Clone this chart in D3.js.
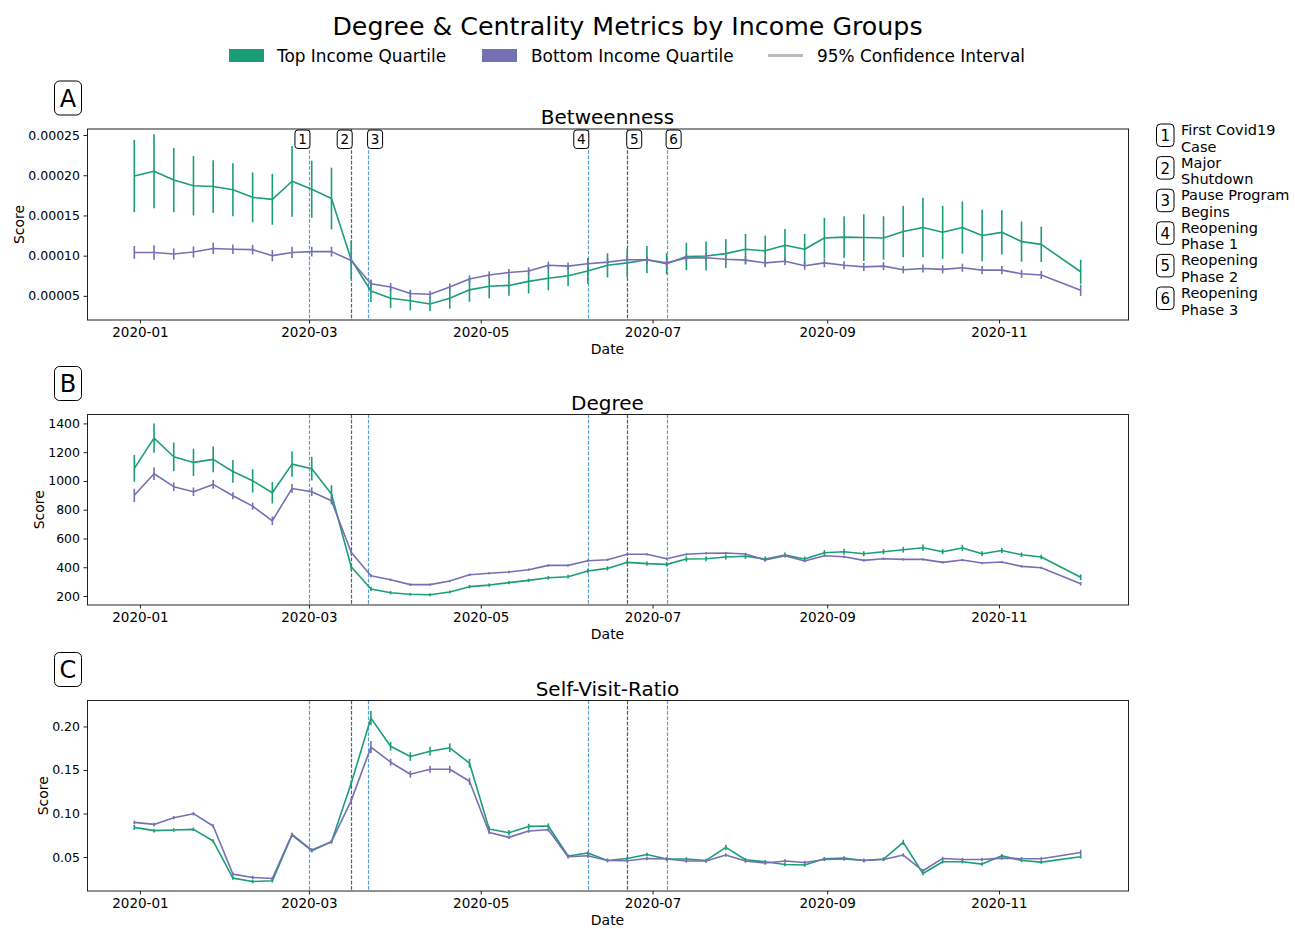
<!DOCTYPE html>
<html><head><meta charset="utf-8">
<script src="https://cdn.jsdelivr.net/npm/d3@7"></script>
<style>body{margin:0;background:#fff}svg{font-family:"DejaVu Sans",sans-serif}</style>
</head><body><svg id="c" width="1295" height="929"></svg>
<script>
// ---------- DATA ----------
const dates = ["2019-12-30","2020-01-06","2020-01-13","2020-01-20","2020-01-27","2020-02-03","2020-02-10","2020-02-17","2020-02-24","2020-03-02","2020-03-09","2020-03-16","2020-03-23","2020-03-30","2020-04-06","2020-04-13","2020-04-20","2020-04-27","2020-05-04","2020-05-11","2020-05-18","2020-05-25","2020-06-01","2020-06-08","2020-06-15","2020-06-22","2020-06-29","2020-07-06","2020-07-13","2020-07-20","2020-07-27","2020-08-03","2020-08-10","2020-08-17","2020-08-24","2020-08-31","2020-09-07","2020-09-14","2020-09-21","2020-09-28","2020-10-05","2020-10-12","2020-10-19","2020-10-26","2020-11-02","2020-11-09","2020-11-16","2020-11-30"];

// Betweenness (units of 1e-5)
const betTop = [19.9,20.5,19.4,18.7,18.6,18.2,17.25,17.0,19.25,18.25,17.1,9.5,5.6,4.7,4.4,4.0,4.7,5.75,6.2,6.3,6.8,7.2,7.5,8.1,8.8,9.1,9.5,9.0,9.9,9.95,10.25,10.8,10.6,11.3,10.8,12.2,12.3,12.25,12.2,13.0,13.5,12.9,13.5,12.5,12.9,11.75,11.4,8.0];
const betTopErr = [4.5,4.6,4.0,3.7,3.25,3.3,3.1,3.15,4.4,3.55,3.85,2.4,1.4,1.2,1.2,0.9,1.3,1.5,1.5,1.3,1.5,1.5,1.3,1.6,1.5,1.8,1.7,1.3,1.7,1.8,1.8,1.9,1.9,2.0,1.9,2.5,2.6,2.9,2.7,3.2,3.7,3.3,3.25,3.2,2.75,2.5,2.2,1.5];
const betBot = [10.4,10.4,10.2,10.45,10.9,10.8,10.75,10.0,10.4,10.5,10.5,9.4,6.5,6.1,5.3,5.2,6.1,7.1,7.6,7.9,8.1,8.8,8.7,9.0,9.2,9.5,9.5,9.1,9.7,9.75,9.55,9.45,9.1,9.3,8.75,9.1,8.8,8.6,8.7,8.25,8.4,8.3,8.5,8.2,8.2,7.75,7.6,5.7];
const betBotErr = [0.8,0.9,0.7,0.7,0.7,0.6,0.6,0.7,0.7,0.6,0.6,0.7,0.5,0.5,0.45,0.45,0.45,0.45,0.45,0.45,0.45,0.45,0.45,0.45,0.45,0.5,0.5,0.5,0.5,0.5,0.5,0.5,0.55,0.5,0.5,0.55,0.5,0.5,0.5,0.45,0.5,0.5,0.5,0.5,0.5,0.5,0.5,0.7];

// Degree
const degTop = [1087,1298,1168,1129,1150,1066,1001,918,1117,1085,909,404,249,223,212,209,228,265,276,293,309,327,334,374,392,434,425,420,457,459,471,476,457,485,457,501,508,494,508,522,536,508,534,494,517,487,471,330];
const degTopErr = [93,102,100,95,90,79,81,75,87,81,61,25,15,12,10,10,10,12,12,12,12,13,13,15,15,15,15,15,18,18,18,18,18,18,18,18,20,18,18,20,22,18,22,18,18,16,16,20];
const degBot = [900,1050,960,925,976,897,825,723,948,925,862,504,341,313,279,279,304,348,358,367,383,413,413,445,452,490,490,459,490,497,499,492,450,480,443,480,473,448,459,455,455,434,450,429,436,406,397,285];
const degBotErr = [46,44,30,30,30,25,25,30,30,30,25,15,10,8,8,8,8,8,8,8,8,8,8,8,8,8,8,8,8,8,8,8,8,8,8,8,8,8,8,8,8,8,8,8,8,8,8,12];

// Self-Visit-Ratio
const svrTop = [0.0841,0.0803,0.0811,0.0818,0.0684,0.0258,0.0219,0.0227,0.0753,0.0573,0.0676,0.1347,0.2096,0.1773,0.1655,0.1716,0.1755,0.1578,0.0822,0.0780,0.0852,0.0857,0.0512,0.0546,0.0461,0.0484,0.0530,0.0477,0.0477,0.0461,0.0611,0.0469,0.0446,0.0415,0.0408,0.0480,0.0488,0.0461,0.0477,0.0668,0.0311,0.0446,0.0446,0.0419,0.0515,0.0461,0.0442,0.0503];
const svrTopErr = [0.003,0.002,0.002,0.002,0.002,0.002,0.002,0.002,0.002,0.002,0.002,0.003,0.008,0.005,0.005,0.005,0.005,0.005,0.003,0.003,0.003,0.003,0.002,0.002,0.002,0.002,0.002,0.002,0.002,0.002,0.003,0.002,0.002,0.002,0.002,0.002,0.002,0.002,0.002,0.003,0.002,0.002,0.002,0.002,0.002,0.002,0.002,0.002];
const svrBot = [0.0898,0.0875,0.0952,0.0998,0.0857,0.0304,0.0265,0.0254,0.0760,0.0580,0.0676,0.1148,0.1762,0.1589,0.1451,0.1508,0.1508,0.1370,0.0783,0.0726,0.0799,0.0814,0.0503,0.0515,0.0461,0.0457,0.0484,0.0477,0.0454,0.0454,0.0523,0.0454,0.0431,0.0454,0.0438,0.0472,0.0477,0.0461,0.0472,0.0523,0.0342,0.0484,0.0472,0.0472,0.0488,0.0480,0.0480,0.0553];
const svrBotErr = [0.002,0.002,0.002,0.002,0.002,0.002,0.002,0.002,0.002,0.002,0.002,0.003,0.007,0.004,0.004,0.004,0.004,0.004,0.002,0.002,0.002,0.002,0.002,0.002,0.002,0.002,0.002,0.002,0.002,0.002,0.002,0.002,0.002,0.002,0.002,0.002,0.002,0.002,0.002,0.002,0.002,0.002,0.002,0.002,0.002,0.002,0.002,0.003];

const eventDates = ["2020-03-01","2020-03-16","2020-03-22","2020-06-08","2020-06-22","2020-07-06"];
const eventLabels = [["First Covid19","Case"],["Major","Shutdown"],["Pause Program","Begins"],["Reopening","Phase 1"],["Reopening","Phase 2"],["Reopening","Phase 3"]];
const xTicks = ["2020-01-01","2020-03-01","2020-05-01","2020-07-01","2020-09-01","2020-11-01"];
const seriesNames = ["Top Income Quartile","Bottom Income Quartile","95% Confidence Interval"];

// ---------- STYLE / LAYOUT ----------
const GREEN = "#1b9e77", PURPLE = "#7570b3";
const L = 87, R = 1128;
const annotSide = [-1,-1,1,-1,1,1]; // which side of the line each number box sits
const evColors = ["#5a9fd6","#2f6aa8","#5a9fd6","#5a9fd6","#3d5f86","#5a9fd6"];
const panels = [
  {letter:"A", title:"Betweenness", top:129, bottom:320, domain:[2.0e-5, 25.75e-5], ticks:[5e-5,10e-5,15e-5,20e-5,25e-5], fmt:d3.format(".5f"),
   top_:betTop.map(v=>v*1e-5), topErr:betTopErr.map(v=>v*1e-5), bot:betBot.map(v=>v*1e-5), botErr:betBotErr.map(v=>v*1e-5), annotate:true},
  {letter:"B", title:"Degree", top:414.5, bottom:605, domain:[137.5, 1462], ticks:[200,400,600,800,1000,1200,1400], fmt:d3.format("d"),
   top_:degTop, topErr:degTopErr, bot:degBot, botErr:degBotErr},
  {letter:"C", title:"Self-Visit-Ratio", top:700.5, bottom:891, domain:[0.011, 0.2298], ticks:[0.05,0.10,0.15,0.20], fmt:d3.format(".2f"),
   top_:svrTop, topErr:svrTopErr, bot:svrBot, botErr:svrBotErr}
];

const parse = d3.utcParse("%Y-%m-%d");
const xd = dates.map(parse);
const ext = d3.extent(xd);
const span = ext[1]-ext[0];
const x = d3.scaleUtc().domain([new Date(+ext[0]-0.05*span), new Date(+ext[1]+0.05*span)]).range([L, R]);

const svg = d3.select("#c");

// title
svg.append("text").attr("x",627.5).attr("y",35).attr("text-anchor","middle").attr("font-size",25.3).attr("fill","#000")
  .text("Degree & Centrality Metrics by Income Groups");

// legend
const lg = svg.append("g");
lg.append("rect").attr("x",229).attr("y",49).attr("width",35).attr("height",13).attr("fill",GREEN);
lg.append("text").attr("x",277).attr("y",61.5).attr("font-size",16.9).text(seriesNames[0]);
lg.append("rect").attr("x",482).attr("y",49).attr("width",35).attr("height",13).attr("fill",PURPLE);
lg.append("text").attr("x",531).attr("y",61.5).attr("font-size",16.9).text(seriesNames[1]);
lg.append("line").attr("x1",768).attr("x2",803).attr("y1",55.5).attr("y2",55.5).attr("stroke","#bbb").attr("stroke-width",3);
lg.append("text").attr("x",817).attr("y",61.5).attr("font-size",16.9).text(seriesNames[2]);

panels.forEach(p => {
  const y = d3.scaleLinear().domain(p.domain).range([p.bottom, p.top]);
  const g = svg.append("g");

  // event lines
  eventDates.forEach((d,i) => {
    const ex = Math.round(x(parse(d)))+0.5;
    g.append("line").attr("x1",ex).attr("x2",ex).attr("y1",p.top).attr("y2",p.bottom)
      .attr("stroke",evColors[i]).attr("stroke-width",1.2).attr("stroke-dasharray","3.7,1.6");
  });

  // series
  const drawSeries = (vals, errs, color) => {
    const sg = g.append("g");
    sg.selectAll("line.err").data(vals).join("line").attr("class","err")
      .attr("x1",(v,i)=>x(xd[i])).attr("x2",(v,i)=>x(xd[i]))
      .attr("y1",(v,i)=>y(v-errs[i])).attr("y2",(v,i)=>y(v+errs[i]))
      .attr("stroke",color).attr("stroke-width",1.6);
    sg.append("path").datum(vals)
      .attr("d", d3.line().x((v,i)=>x(xd[i])).y(v=>y(v)))
      .attr("fill","none").attr("stroke",color).attr("stroke-width",1.6).attr("stroke-linejoin","round");
  };
  drawSeries(p.top_, p.topErr, GREEN);
  drawSeries(p.bot, p.botErr, PURPLE);

  // frame
  g.append("rect").attr("x",L+0.5).attr("y",p.top).attr("width",R-L).attr("height",p.bottom-p.top)
    .attr("fill","none").attr("stroke","#222").attr("stroke-width",1);

  // axes
  const xa = g.append("g").attr("transform",`translate(0,${p.bottom})`)
    .call(d3.axisBottom(x).tickValues(xTicks.map(parse)).tickFormat(d3.utcFormat("%Y-%m")).tickSizeOuter(0).tickSize(3.5).tickPadding(3.5));
  xa.select(".domain").remove();
  xa.selectAll("text").attr("font-size",13.5).attr("fill","#000").attr("font-family","DejaVu Sans");
  xa.selectAll("line").attr("stroke","#222");

  const ya = g.append("g").attr("transform",`translate(${L},0)`)
    .call(d3.axisLeft(y).tickValues(p.ticks).tickFormat(p.fmt).tickSize(3.5).tickPadding(3.5));
  ya.select(".domain").remove();
  ya.selectAll("text").attr("font-size",12.5).attr("fill","#000").attr("font-family","DejaVu Sans");
  ya.selectAll("line").attr("stroke","#222");

  const bb = ya.node().getBBox();
  g.append("text").attr("transform",`translate(${L+bb.x-4.5},${(p.top+p.bottom)/2}) rotate(-90)`)
    .attr("text-anchor","middle").attr("font-size",14).text("Score");
  g.append("text").attr("x",(L+R)/2).attr("y",p.bottom+34).attr("text-anchor","middle").attr("font-size",14).text("Date");

  // subplot title
  g.append("text").attr("x",(L+R)/2).attr("y",p.top-5).attr("text-anchor","middle").attr("font-size",20).text(p.title);

  // panel letter
  g.append("rect").attr("x",54.5).attr("y",p.top-48).attr("width",27).attr("height",34).attr("rx",5)
    .attr("fill","#fff").attr("stroke","#000").attr("stroke-width",1);
  g.append("text").attr("x",68).attr("y",p.top-22.5).attr("text-anchor","middle").attr("font-size",24).text(p.letter);

  // number annotations
  if (p.annotate) {
    eventDates.forEach((d,i) => {
      const ex = x(parse(d));
      const bx = annotSide[i] < 0 ? ex - 14 : ex - 0.5;
      g.append("rect").attr("x",bx).attr("y",p.top+1).attr("width",15).attr("height",18.5).attr("rx",3)
        .attr("fill","#fff").attr("stroke","#000").attr("stroke-width",1);
      g.append("text").attr("x",bx+7.5).attr("y",p.top+15).attr("text-anchor","middle").attr("font-size",13.5).text(i+1);
    });
  }
});

// right-side event legend
eventLabels.forEach((lines,i) => {
  const yy = 124 + i*32.6;
  svg.append("rect").attr("x",1156.5).attr("y",yy).attr("width",17.5).attr("height",22.5).attr("rx",4)
    .attr("fill","#fff").attr("stroke","#000").attr("stroke-width",1);
  svg.append("text").attr("x",1165.2).attr("y",yy+17).attr("text-anchor","middle").attr("font-size",15).text(i+1);
  lines.forEach((t,j) => {
    svg.append("text").attr("x",1181).attr("y",yy+11+j*16.5).attr("font-size",14.5).text(t);
  });
});
</script></body></html>
